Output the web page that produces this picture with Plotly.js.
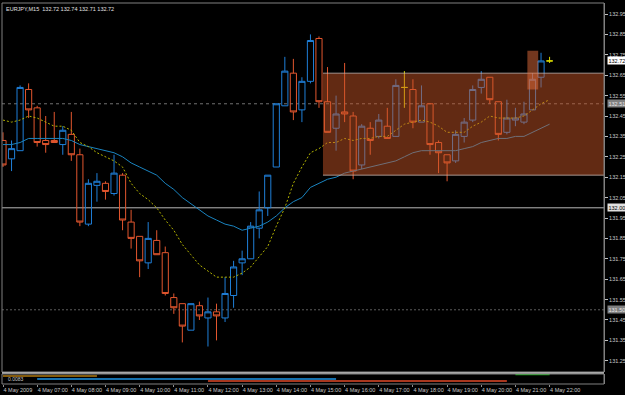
<!DOCTYPE html>
<html><head><meta charset="utf-8">
<script src="https://cdn.plot.ly/plotly-3.0.1.min.js"></script>
<style>html,body{margin:0;padding:0;background:#000;}#chart{width:625px;height:395px;}</style>
</head><body><div id="chart"></div>
<script>
// ---------- data ----------
const symbol = 'EURJPY,M15';
const times = [
 '2009-05-04 06:00','2009-05-04 06:15','2009-05-04 06:30','2009-05-04 06:45',
 '2009-05-04 07:00','2009-05-04 07:15','2009-05-04 07:30','2009-05-04 07:45',
 '2009-05-04 08:00','2009-05-04 08:15','2009-05-04 08:30','2009-05-04 08:45',
 '2009-05-04 09:00','2009-05-04 09:15','2009-05-04 09:30','2009-05-04 09:45',
 '2009-05-04 10:00','2009-05-04 10:15','2009-05-04 10:30','2009-05-04 10:45',
 '2009-05-04 11:00','2009-05-04 11:15','2009-05-04 11:30','2009-05-04 11:45',
 '2009-05-04 12:00','2009-05-04 12:15','2009-05-04 12:30','2009-05-04 12:45',
 '2009-05-04 13:00','2009-05-04 13:15','2009-05-04 13:30','2009-05-04 13:45',
 '2009-05-04 14:00','2009-05-04 14:15','2009-05-04 14:30','2009-05-04 14:45',
 '2009-05-04 15:00','2009-05-04 15:15','2009-05-04 15:30','2009-05-04 15:45',
 '2009-05-04 16:00','2009-05-04 16:15','2009-05-04 16:30','2009-05-04 16:45',
 '2009-05-04 17:00','2009-05-04 17:15','2009-05-04 17:30','2009-05-04 17:45',
 '2009-05-04 18:00','2009-05-04 18:15','2009-05-04 18:30','2009-05-04 18:45',
 '2009-05-04 19:00','2009-05-04 19:15','2009-05-04 19:30','2009-05-04 19:45',
 '2009-05-04 20:00','2009-05-04 20:15','2009-05-04 20:30','2009-05-04 20:45',
 '2009-05-04 21:00','2009-05-04 21:15','2009-05-04 21:30','2009-05-04 21:45',
 '2009-05-04 22:00'
];
const open  = [132.33,132.24,132.28,132.58,132.49,132.33,132.33,132.31,132.36,132.26,
               131.92,132.11,132.12,132.07,132.16,131.93,131.86,131.73,131.84,131.78,
               131.56,131.53,131.40,131.52,131.46,131.49,131.46,131.57,131.73,131.75,
               131.90,132.00,132.20,132.50,132.66,132.48,132.62,132.83,132.52,132.39,
               132.47,132.45,132.21,132.39,132.35,132.40,132.35,132.59,132.58,132.42,
               132.51,132.32,132.26,132.23,132.35,132.43,132.59,132.64,132.52,132.37,
               132.43,132.42,132.48,132.64,132.72];
const high  = [132.37,132.33,132.60,132.61,132.50,132.45,132.47,132.40,132.47,132.29,
               132.14,132.17,132.13,132.26,132.17,131.99,131.86,131.93,131.89,131.81,
               131.58,131.53,131.53,131.54,131.56,131.53,131.66,131.74,131.79,131.93,
               132.08,132.16,132.51,132.74,132.73,132.64,132.85,132.84,132.69,132.55,
               132.71,132.47,132.41,132.42,132.46,132.49,132.63,132.67,132.63,132.60,
               132.51,132.33,132.26,132.38,132.44,132.60,132.67,132.64,132.52,132.53,
               132.49,132.52,132.66,132.76,132.74];
const low   = [132.20,132.18,132.28,132.44,132.30,132.27,132.32,132.26,132.23,131.91,
               131.91,132.03,132.04,132.06,131.89,131.80,131.66,131.70,131.77,131.57,
               131.48,131.34,131.40,131.45,131.32,131.35,131.44,131.51,131.67,131.75,
               131.85,131.96,132.20,132.50,132.43,132.42,132.61,132.49,132.37,132.28,
               132.42,132.14,132.19,132.26,132.34,132.34,132.35,132.49,132.39,132.42,
               132.26,132.17,132.13,132.22,132.32,132.42,132.56,132.51,132.33,132.36,
               132.40,132.41,132.48,132.59,132.71];
const close = [132.21,132.29,132.59,132.48,132.32,132.31,132.32,132.38,132.26,131.93,
               132.12,132.13,132.08,132.17,131.94,131.85,131.74,131.85,131.77,131.58,
               131.51,131.42,131.53,131.47,131.49,131.47,131.58,131.71,131.75,131.91,
               131.99,132.16,132.51,132.67,132.47,132.62,132.82,132.52,132.37,132.46,
               132.46,132.18,132.40,132.33,132.43,132.34,132.60,132.59,132.42,132.50,
               132.31,132.27,132.22,132.36,132.42,132.58,132.63,132.53,132.36,132.44,
               132.44,132.46,132.63,132.72,132.72];
const maFast = [132.43,132.42,132.43,132.45,132.44,132.42,132.40,132.40,132.38,132.32,
                132.30,132.27,132.25,132.23,132.20,132.12,132.07,132.04,132.00,131.94,
                131.89,131.82,131.77,131.72,131.69,131.66,131.66,131.66,131.68,131.71,
                131.76,131.81,131.91,132.00,132.12,132.20,132.27,132.29,132.32,132.32,
                132.34,132.33,132.34,132.34,132.35,132.35,132.38,132.41,132.42,132.43,
                132.42,132.40,132.37,132.37,132.37,132.40,132.42,132.45,132.44,132.44,
                132.44,132.45,132.48,132.51,132.53];
const maSlow = [132.31,132.31,132.32,132.34,132.34,132.34,132.34,132.34,132.33,132.31,
                132.30,132.29,132.28,132.27,132.25,132.22,132.20,132.18,132.16,132.12,
                132.09,132.05,132.02,131.99,131.96,131.94,131.92,131.91,131.89,131.90,
                131.91,131.93,131.96,132.00,132.03,132.05,132.10,132.12,132.14,132.15,
                132.17,132.18,132.19,132.20,132.21,132.22,132.23,132.25,132.27,132.28,
                132.28,132.28,132.28,132.28,132.29,132.30,132.32,132.33,132.34,132.34,
                132.35,132.35,132.37,132.39,132.41];
const priceTicks = [131.25,131.35,131.45,131.55,131.65,131.75,131.85,131.95,132.05,
                    132.15,132.25,132.35,132.45,132.55,132.65,132.75,132.85,132.95];
const timeTicks = ['2009-05-04 06:00','2009-05-04 07:00','2009-05-04 08:00','2009-05-04 09:00',
                   '2009-05-04 10:00','2009-05-04 11:00','2009-05-04 12:00','2009-05-04 13:00',
                   '2009-05-04 14:00','2009-05-04 15:00','2009-05-04 16:00','2009-05-04 17:00',
                   '2009-05-04 18:00','2009-05-04 19:00','2009-05-04 20:00','2009-05-04 21:00',
                   '2009-05-04 22:00'];
const timeLabels = ['4 May 2009','4 May 07:00','4 May 08:00','4 May 09:00','4 May 10:00',
                    '4 May 11:00','4 May 12:00','4 May 13:00','4 May 14:00','4 May 15:00',
                    '4 May 16:00','4 May 17:00','4 May 18:00','4 May 19:00','4 May 20:00',
                    '4 May 21:00','4 May 22:00'];
// horizontal line objects
const hLevels = [132.51, 132.00, 131.50];
// rectangle objects
const boxStart = '2009-05-04 15:22', boxTop = 132.66, boxBottom = 132.16;
const markStart = '2009-05-04 21:21', markEnd = '2009-05-04 21:40', markTop = 132.77, markBottom = 132.58;
// sub-window session indicator
const sessStart = ['2009-05-04 06:00','2009-05-04 07:00','2009-05-04 12:00','2009-05-04 21:00'];
const sessEnd   = ['2009-05-04 08:45','2009-05-04 15:45','2009-05-04 20:45','2009-05-04 22:00'];
const sessLevel = [8, 5, 3, 9.5];
const subLabel = '0.0083';

// ---------- drawing ----------
const xRange = ['2009-05-04 05:58:15','2009-05-04 23:35:35'];
const yRange = [131.195, 133.004];
const H = 381;                       // plot height (px)
const mainBottom = 12 / H, subTop = 10 / H, sepY = 11 / H;

const idxN = [], idxD = [];
open.forEach((o, i) => (o === close[i] ? idxD : idxN).push(i));
const sel = (a, idx) => idx.map(i => a[i]);

const UP = '#1f7fd8', DN = '#e2562e', DOJI = '#d8d800';
const traces = [
  {type:'candlestick', x:sel(times,idxN), open:sel(open,idxN), high:sel(high,idxN),
   low:sel(low,idxN), close:sel(close,idxN), whiskerwidth:0,
   increasing:{line:{color:UP,width:1}, fillcolor:'rgba(0,0,0,0)'},
   decreasing:{line:{color:DN,width:1}, fillcolor:'rgba(0,0,0,0)'}, hoverinfo:'skip'},
  {type:'candlestick', x:sel(times,idxD), open:sel(open,idxD), high:sel(high,idxD),
   low:sel(low,idxD), close:sel(close,idxD), whiskerwidth:0,
   increasing:{line:{color:DOJI,width:1}, fillcolor:'rgba(0,0,0,0)'},
   decreasing:{line:{color:DOJI,width:1}, fillcolor:'rgba(0,0,0,0)'}, hoverinfo:'skip'},
  {type:'scatter', mode:'lines', x:times, y:maSlow, line:{color:'#1a84c0', width:1}, hoverinfo:'skip'},
  {type:'scatter', mode:'lines', x:times, y:maFast, line:{color:'#b4b400', width:1, dash:'2px,2px'}, hoverinfo:'skip'}
];
const sessColors = ['#b07a10','#1e96e6','#e04a28','#10b010'];
sessStart.forEach((s, k) => traces.push({type:'scatter', mode:'lines', x:[s, sessEnd[k]],
  y:[sessLevel[k], sessLevel[k]], yaxis:'y2', line:{color:sessColors[k], width:1.5}, hoverinfo:'skip'}));

const hStyles = [{color:'#707070', dash:'3px,3px'}, {color:'#b8b8b8', dash:'solid'}, {color:'#5c5c5c', dash:'2px,2px'}];
const shapes = hLevels.map((v, k) => ({type:'line', layer:'below', xref:'paper', x0:0, x1:1, yref:'y', y0:v, y1:v,
  line:{color:hStyles[k].color, width:1, dash:hStyles[k].dash}}));
shapes.push({type:'rect', layer:'above', xref:'x', yref:'y', x0:boxStart, x1:xRange[1], y0:boxBottom, y1:boxTop,
  fillcolor:'rgb(205,88,40)', opacity:0.48, line:{width:0}});
shapes.push({type:'line', layer:'above', xref:'x', yref:'y', x0:boxStart, x1:xRange[1], y0:boxTop, y1:boxTop,
  line:{color:'rgba(200,190,185,0.75)', width:1}});
shapes.push({type:'line', layer:'above', xref:'x', yref:'y', x0:boxStart, x1:xRange[1], y0:boxBottom, y1:boxBottom,
  line:{color:'rgba(200,190,185,0.75)', width:1}});
shapes.push({type:'rect', layer:'above', xref:'x', yref:'y', x0:markStart, x1:markEnd, y0:markBottom, y1:markTop,
  fillcolor:'rgb(230,110,60)', opacity:0.5, line:{width:0}});
// window frame
shapes.push({type:'rect', xref:'paper', yref:'paper', x0:0, x1:1, y0:mainBottom, y1:1, line:{color:'#808080', width:1}});
shapes.push({type:'line', xref:'paper', yref:'paper', x0:0, x1:1, y0:sepY, y1:sepY, line:{color:'#a8a8a8', width:2}});
shapes.push({type:'rect', xref:'paper', yref:'paper', x0:0, x1:1, y0:0, y1:subTop, line:{color:'#808080', width:1}});

const F = 'Liberation Sans, Arial, sans-serif';
const lastI = close.length - 1;
const fmt = v => v.toFixed(2);
const priceTag = (v, bg, fg) => ({xref:'paper', x:1, xanchor:'left', xshift:3, yref:'y', y:v, yanchor:'middle',
  text:fmt(v), showarrow:false, bgcolor:bg, borderpad:0.5, font:{family:F, size:5.5, color:fg}});
const annotations = [
  {xref:'paper', x:0, xanchor:'left', xshift:2, yref:'paper', y:1, yanchor:'top', yshift:-1, showarrow:false,
   text: symbol + '\u00a0\u00a0' + [open[lastI], high[lastI], low[lastI], close[lastI]].map(fmt).join(' '),
   font:{family:F, size:5.5, color:'#e0e0e0'}},
  priceTag(close[lastI], '#ffffff', '#000000'),
  priceTag(hLevels[0], '#808080', '#e8e8e8'),
  priceTag(hLevels[1], '#e0e0e0', '#000000'),
  priceTag(hLevels[2], '#808080', '#e8e8e8'),
  {xref:'paper', x:0, xanchor:'left', xshift:4, yref:'paper', y:subTop, yanchor:'top', showarrow:false,
   text:subLabel, font:{family:F, size:5, color:'#c8c8c8'}}
];

const layout = {
  width:625, height:395, margin:{l:2, r:21, t:3, b:11},
  paper_bgcolor:'#000', plot_bgcolor:'#000', showlegend:false,
  boxgap:0.28, boxgroupgap:0,
  font:{family:F, size:5.5, color:'#c8c8c8'},
  xaxis:{type:'date', range:xRange, anchor:'y2', showgrid:false, zeroline:false,
    rangeslider:{visible:false}, tickvals:timeTicks, ticktext:timeLabels, tickangle:0, ticks:'outside', ticklen:2,
    tickcolor:'#909090', ticklabelposition:'outside right', tickfont:{family:F, size:5.5, color:'#c8c8c8'},
    showline:false, fixedrange:true},
  yaxis:{domain:[mainBottom, 1], range:yRange, side:'right', showgrid:false, zeroline:false,
    tickvals:priceTicks, ticktext:priceTicks.map(fmt), ticks:'outside', ticklen:3, tickcolor:'#c0c0c0',
    tickfont:{family:F, size:5.5, color:'#c8c8c8'}, showline:true, linecolor:'#808080', fixedrange:true},
  yaxis2:{domain:[0, subTop], range:[0, 10], side:'right', showgrid:false, zeroline:false,
    showticklabels:false, showline:true, linecolor:'#808080', fixedrange:true},
  shapes, annotations
};
Plotly.newPlot('chart', traces, layout, {staticPlot:true, displayModeBar:false});
</script></body></html>
